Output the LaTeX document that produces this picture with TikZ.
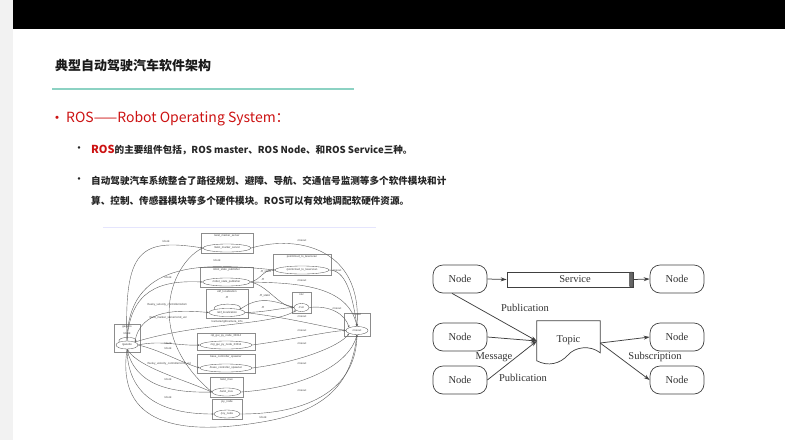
\documentclass[tikz,border=0pt]{standalone}
\usepackage{fontspec}
\newfontfamily\cjk{Noto Sans CJK SC}
\newfontfamily\seriffont{Liberation Serif}
\newfontfamily\graphfont{Liberation Sans}
\usetikzlibrary{shapes.geometric, positioning, arrows.meta, calc}
\definecolor{rosred}{RGB}{204,18,18}
\definecolor{ruleteal}{RGB}{140,210,195}
\definecolor{graphline}{RGB}{95,95,95}

\begin{document}
\begin{tikzpicture}[
    x=1pt, y=-1pt,
    >=Stealth,
    gbox/.style={draw=black!45, line width=0.35pt, inner sep=0pt},
    gtitle/.style={font=\graphfont\fontsize{2.8}{3}\selectfont, text=black!75, inner sep=0.4pt},
    gnode/.style={ellipse, draw=black!65, line width=0.35pt, inner sep=0pt, minimum height=8pt, font=\graphfont\fontsize{2.8}{3}\selectfont, text=black!75},
    gtopic/.style={font=\graphfont\fontsize{2.8}{3}\selectfont, text=black!75, inner sep=0pt},
    gedge/.style={draw=graphline, line width=0.4pt, -{Stealth[length=2.2pt, width=1.8pt]}},
    rosnode/.style={draw=black!75, line width=0.7pt, rounded corners=10pt, minimum width=54pt, minimum height=28pt, inner sep=0pt, font=\seriffont\fontsize{10.5}{12}\selectfont, text=black!80},
    service/.style={draw=black!75, line width=0.7pt, minimum width=126pt, minimum height=15pt, inner sep=0pt, font=\seriffont\fontsize{10.5}{12}\selectfont, text=black!80},
    servcap/.style={draw=black!75, fill=black!60, line width=0.5pt, minimum width=3.5pt, minimum height=15pt, inner sep=0pt, rounded corners=1pt},
    doc/.style={minimum width=63pt, minimum height=40pt, inner sep=0pt, font=\seriffont\fontsize{10.5}{12}\selectfont, text=black!80},
    flowlbl/.style={font=\seriffont\fontsize{10.5}{12}\selectfont, text=black!80, inner sep=0pt},
    flow/.style={draw=black!75, line width=0.75pt, -{Stealth[length=6pt, width=4pt]}}
]
    \useasboundingbox (0,0) rectangle (785,440);

    % Slide frame
    \fill[black!5] (0,0) rectangle (13,440);
    \fill[black] (13,0) rectangle (785,29);

    % Title and rule
    \node[anchor=west, font=\cjk\bfseries\fontsize{13}{15}\selectfont, text=black!90, inner sep=0pt] (title) at (55,66) {典型自动驾驶汽车软件架构};
    \draw[ruleteal, line width=1.5pt] (52,89) -- (354,89);

    % Bullets
    \node[text=rosred, font=\cjk\fontsize{15}{16}\selectfont, inner sep=0pt] (bullet_main) at (57,120) {•};
    \node[anchor=west, text=rosred, font=\cjk\fontsize{14}{16}\selectfont, inner sep=0pt] (ros_head) at (66,119) {ROS——Robot Operating System：};
    \node[text=black!85, font=\cjk\fontsize{12}{12}\selectfont, inner sep=0pt] (bullet_one) at (79,150) {•};
    \node[anchor=west, text=black!85, font=\cjk\bfseries\fontsize{9.6}{12}\selectfont, inner sep=0pt] (text_one) at (91,150) {\textcolor{rosred}{\fontsize{11}{12}\selectfont ROS}的主要组件包括，ROS master、ROS Node、和ROS Service三种。};
    \node[text=black!85, font=\cjk\fontsize{12}{12}\selectfont, inner sep=0pt] (bullet_two) at (79,181) {•};
    \node[anchor=west, text=black!85, font=\cjk\bfseries\fontsize{9.6}{12}\selectfont, inner sep=0pt] (text_two_a) at (91,181) {自动驾驶汽车系统整合了路径规划、避障、导航、交通信号监测等多个软件模块和计};
    \node[anchor=west, text=black!85, font=\cjk\bfseries\fontsize{9.6}{12}\selectfont, inner sep=0pt] (text_two_b) at (91,201) {算、控制、传感器模块等多个硬件模块。ROS可以有效地调配软硬件资源。};

    % Node graph (left)
    \draw[black!8!blue!10, line width=0.8pt] (103,227) -- (376,227);

    \node[gbox, minimum width=26, minimum height=28] (gazebo_box) at (127,338) {};
    \node[gtitle, below=0.6pt of gazebo_box.north] (gazebo_lbl) {gazebo};
    \node[gnode, minimum width=22, above=3pt of gazebo_box.south] (gazebo) {/gazebo};
    \node[gtopic] (gazebo_loop) at (127,333) {/clock};

    \node[gbox, minimum width=52, minimum height=20] (tms_box) at (227,243) {};
    \node[gtitle, below=0.6pt of tms_box.north] (tms_lbl) {twist\_marker\_server};
    \node[gnode, minimum width=48, above=1pt of tms_box.south] (tms) {/twist\_marker\_server};

    \node[gbox, minimum width=53, minimum height=20] (rsp_box) at (226.5,277) {};
    \node[gtitle, below=0.6pt of rsp_box.north] (rsp_lbl) {robot\_state\_publisher};
    \node[gnode, minimum width=48, above=1pt of rsp_box.south] (rsp) {/robot\_state\_publisher};

    \node[gbox, minimum width=42, minimum height=29] (ekf_box) at (227,303.5) {};
    \node[gtitle, below=0.6pt of ekf_box.north] (ekf_lbl) {ekf\_localization};
    \node[gnode, minimum width=36, above=1.5pt of ekf_box.south] (ekf) {/ekf\_localization};
    \node[gtopic] (ekf_loop) at (227,297.5) {/tf};

    \node[gbox, minimum width=58, minimum height=21] (pcl_box) at (302,264.5) {};
    \node[gtitle, below=0.6pt of pcl_box.north] (pcl_lbl) {pointcloud\_to\_laserscan};
    \node[gnode, minimum width=54, above=1pt of pcl_box.south] (pcl) {/pointcloud\_to\_laserscan};

    \node[gbox, minimum width=19, minimum height=21] (rviz_box) at (301.5,302.5) {};
    \node[gtitle, below=0.6pt of rviz_box.north] (rviz_lbl) {rviz};
    \node[gnode, minimum width=15, above=1.5pt of rviz_box.south] (rviz) {/rviz};

    \node[gbox, minimum width=26, minimum height=23] (rosout_box) at (357,324.5) {};
    \node[gtitle, below=0.6pt of rosout_box.north] (rosout_lbl) {rosout};
    \node[gnode, minimum width=22, above=1.5pt of rosout_box.south] (rosout) {/rosout};

    \node[gbox, minimum width=58, minimum height=17] (rqt_box) at (226,341.5) {};
    \node[gtitle, below=0.6pt of rqt_box.north] (rqt_lbl) {rqt\_gui\_py\_node\_33314};
    \node[gnode, minimum width=52, above=1pt of rqt_box.south] (rqt) {/rqt\_gui\_py\_node\_33314};

    \node[gbox, minimum width=58, minimum height=19] (bcs_box) at (226,363.5) {};
    \node[gtitle, below=0.6pt of bcs_box.north] (bcs_lbl) {base\_controller\_spawner};
    \node[gnode, minimum width=52, above=1pt of bcs_box.south] (bcs) {/base\_controller\_spawner};

    \node[gbox, minimum width=33, minimum height=20] (mux_box) at (226.5,387) {};
    \node[gtitle, below=0.6pt of mux_box.north] (mux_lbl) {twist\_mux};
    \node[gnode, minimum width=29, above=1pt of mux_box.south] (mux) {/twist\_mux};

    \node[gbox, minimum width=30, minimum height=20] (joy_box) at (227,409) {};
    \node[gtitle, below=0.6pt of joy_box.north] (joy_lbl) {joy\_node};
    \node[gnode, minimum width=26, above=1pt of joy_box.south] (joy) {/joy\_node};

    % Self loops
    \draw[gedge] (gazebo.north west) .. controls ($(gazebo.north west)+(-3,-6)$) and ($(gazebo.north east)+(3,-6)$) .. (gazebo.north east);
    \draw[gedge] (ekf.north west) .. controls ($(ekf.north west)+(-3,-7)$) and ($(ekf.north east)+(3,-7)$) .. (ekf.north east);

    % Clock and command topics
    \draw[gedge] (gazebo.north) .. controls (124,250) and (140,238) .. (tms.west);
    \node[gtopic] (lbl_clock_tms) at (166,241) {/clock};
    \draw[gedge] (gazebo.north) .. controls (128,262) and (200,262) .. (pcl.west);
    \node[gtopic] (lbl_clock_pcl) at (217,260) {/clock};
    \draw[gedge] (gazebo.north) .. controls (130,290) and (160,280) .. (rsp.west);
    \node[gtopic] (lbl_clock_rsp) at (168,277) {/clock};
    \draw[gedge] (gazebo.north east) .. controls (140,308) and (180,310) .. (ekf.west);
    \node[gtopic] (lbl_odom) at (167,305) {/husky\_velocity\_controller/odom};
    \draw[gedge] (tms.west) .. controls (175,260) and (140,330) .. (mux.west);
    \node[gtopic] (lbl_marker_vel) at (168,318) {/twist\_marker\_server/cmd\_vel};
    \draw[gedge] (gazebo.north east) .. controls (200,322) and (270,326) .. (rviz.south west);
    \node[gtopic] (lbl_camera) at (227,322) {/camera/rgb/camera\_info};
    \draw[gedge] (gazebo.east) .. controls (160,340) and (180,346) .. (rqt.west);
    \node[gtopic] (lbl_clock_rqt) at (168,343) {/clock};
    \draw[gedge] (gazebo.east) .. controls (160,350) and (180,362) .. (bcs.west);
    \node[gtopic] (lbl_clock_bcs) at (168,348.5) {/clock};
    \draw[gedge] (mux.west) .. controls (180,378) and (140,368) .. (gazebo.south);
    \node[gtopic] (lbl_mux_vel) at (169,364) {/husky\_velocity\_controller/cmd\_vel};
    \draw[gedge] (gazebo.south) .. controls (135,385) and (170,393) .. (mux.west);
    \node[gtopic] (lbl_clock_mux) at (168,379) {/clock};
    \draw[gedge] (gazebo.south) .. controls (128,402) and (170,414) .. (joy.west);
    \node[gtopic] (lbl_clock_joy) at (168,397) {/clock};
    \coordinate (clock_low) at (262,422);
    \draw[gedge] (gazebo.south) .. controls (116,425) and (180,436) .. (clock_low) .. controls (335,410) and (352,375) .. (rosout.south);
    \node[gtopic] (lbl_clock_rosout) at (263,417) {/clock};

    % Transform topics
    \draw[gedge] (rsp.east) .. controls (262,279) and (262,270) .. (pcl.west);
    \node[gtopic] (lbl_tfs_pcl) at (266,271.5) {/tf\_static};
    \draw[gedge] (rsp.east) .. controls (268,286) and (278,305) .. (rviz.west);
    \node[gtopic] (lbl_tf_rviz) at (263,279) {/tf};
    \draw[gedge] (ekf.north east) .. controls (258,296) and (272,300) .. (rviz.west);
    \node[gtopic] (lbl_tfs_rviz) at (265,296) {/tf\_static};
    \draw[gedge] (ekf.east) .. controls (268,312) and (280,308) .. (rviz.west);
    \node[gtopic] (lbl_tf_ekf) at (263,307) {/tf};

    % Log topics
    \draw[gedge] (tms.east) .. controls (300,234) and (362,250) .. (rosout.north);
    \node[gtopic] (lbl_log_tms) at (302,240) {/rosout};
    \draw[gedge] (pcl.east) .. controls (345,270) and (352,292) .. (rosout.north);
    \node[gtopic] (lbl_log_pcl) at (337,270) {/rosout};
    \draw[gedge] (rsp.east) .. controls (300,283) and (348,286) .. (rosout.north);
    \node[gtopic] (lbl_log_rsp) at (302,280) {/rosout};
    \draw[gedge] (rviz.east) .. controls (330,305) and (345,314) .. (rosout.north west);
    \node[gtopic] (lbl_log_rviz) at (337,308) {/rosout};
    \draw[gedge] (ekf.east) .. controls (290,318) and (320,326) .. (rosout.west);
    \node[gtopic] (lbl_log_ekf) at (302,316) {/rosout};
    \draw[gedge] (rqt.east) .. controls (290,340) and (330,331) .. (rosout.west);
    \node[gtopic] (lbl_log_rqt) at (302,330) {/rosout};
    \draw[gedge] (bcs.east) .. controls (300,362) and (340,346) .. (rosout.south west);
    \node[gtopic] (lbl_log_bcs) at (302,343) {/rosout};
    \draw[gedge] (mux.east) .. controls (310,387) and (350,362) .. (rosout.south);
    \node[gtopic] (lbl_log_mux) at (302,363) {/rosout};
    \draw[gedge] (joy.east) .. controls (320,414) and (356,382) .. (rosout.south);
    \node[gtopic] (lbl_log_joy) at (302,390) {/rosout};

    % Topic / service diagram (right)
    \node[rosnode] (node_tl) at (460,279) {Node};
    \node[rosnode] (node_tr) at (677,279) {Node};
    \node[rosnode] (node_ml) at (460,337) {Node};
    \node[rosnode] (node_bl) at (460,380) {Node};
    \node[rosnode] (node_mr) at (677,337) {Node};
    \node[rosnode] (node_br) at (677,380) {Node};

    \node[service] (service) at (570,279.5) {\hspace{10pt}Service};
    \node[servcap, anchor=east] (service_cap) at (service.east) {};

    \node[doc] (topic) at (568.5,341) {\raisebox{4pt}{Topic}};
    \draw[draw=black!75, line width=0.7pt] (topic.north west) -- (topic.north east) -- ($(topic.north east)+(0,32)$)
        .. controls ($(topic.north east)+(-10,24)$) and ($(topic.north east)+(-25,26)$) .. ($(topic.north east)+(-32,34)$)
        .. controls ($(topic.north east)+(-40,43)$) and ($(topic.north east)+(-52,46)$) .. ($(topic.north west)+(0,40)$) -- cycle;

    \draw[flow] (node_tl.east) -- (service.west);
    \draw[flow] (service_cap.east) -- (node_tr.west);
    \draw[flow] ([xshift=-8pt]node_tl.south) -- (topic.west);
    \draw[flow] (node_ml.east) -- (topic.west);
    \draw[flow] (node_bl.east) -- (topic.west);
    \draw[flow] ([yshift=-2pt]topic.east) -- (node_mr.west);
    \draw[flow] ([yshift=-2pt]topic.east) -- (node_br.west);

    \node[flowlbl] (pub_top) at (525,308) {Publication};
    \node[flowlbl] (msg) at (494,357) {Message};
    \node[flowlbl] (pub_bottom) at (523,378) {Publication};
    \node[flowlbl] (sub) at (655,357) {Subscription};

\end{tikzpicture}
\end{document}
